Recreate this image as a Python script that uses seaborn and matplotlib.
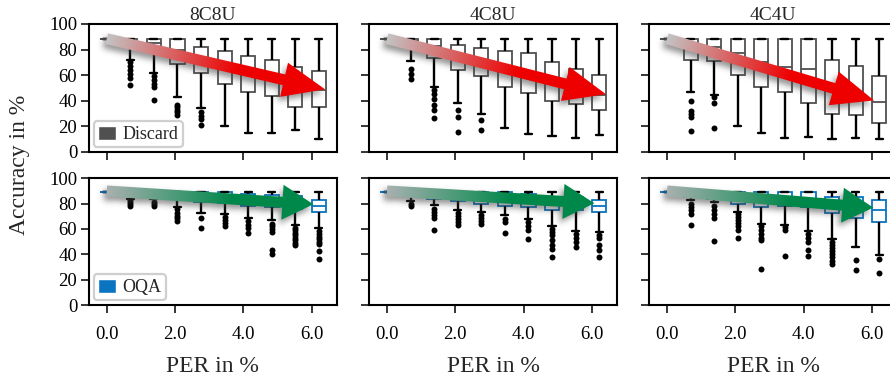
import numpy as np
import pandas as pd
import matplotlib
matplotlib.use("Agg")
import matplotlib.pyplot as plt
import seaborn as sns
from matplotlib.patches import Patch, Polygon
from matplotlib.path import Path

# ---------------------------------------------------------------- data
# packet error rates (%) at which accuracy was evaluated
per = [0.0, 0.69, 1.38, 2.07, 2.76, 3.45, 4.14, 4.83, 5.52, 6.21]
configs = ["8C8U", "4C8U", "4C4U"]
x_ticks = [0.0, 2.0, 4.0, 6.0]
x_tick_labels = ["0.0", "2.0", "4.0", "6.0"]
y_ticks = [0, 20, 40, 60, 80, 100]

# Discard - 8C8U  (whisker low, Q1, median, Q3, whisker high)
d_8c8u_lo = [88.5, 72, 62, 43, 34, 20.5, 14.5, 14.5, 17, 10.5]
d_8c8u_q1 = [88.5, 82, 79, 68.5, 62, 52.8, 46.5, 44, 35.5, 35.2]
d_8c8u_med = [88.5, 86.5, 85.5, 80, 73, 66, 61, 57, 51, 48.3]
d_8c8u_q3 = [88.5, 88.5, 88.5, 88, 82.3, 79, 75, 71.5, 66.2, 63]
d_8c8u_hi = [88.5, 88.5, 88.5, 88.5, 88.5, 88.5, 88.5, 88.5, 88, 88.5]
d_8c8u_fliers = [[], [70, 67, 64, 61, 58, 52], [59, 56, 53.5, 50.5, 41],
                 [37, 35, 33, 31, 29], [31, 28.5, 26, 21], [], [], [], [], []]

# Discard - 4C8U
d_4c8u_lo = [88.5, 71, 51, 38.2, 29.5, 18.4, 14.2, 12.4, 11, 12.9]
d_4c8u_q1 = [88.5, 83, 73.2, 64, 59.6, 51, 46, 40.2, 37.4, 32.8]
d_4c8u_med = [88.5, 87, 83, 76, 71, 65, 61, 55, 50, 44.6]
d_4c8u_q3 = [88.5, 88.5, 88.5, 83.9, 81.3, 78.9, 77.2, 70.1, 64.9, 60.5]
d_4c8u_hi = [88.5, 88.5, 88.5, 88.5, 88.5, 88.5, 88.5, 88.5, 88.5, 88.5]
d_4c8u_fliers = [[], [65, 61, 57], [48.5, 45, 41.5, 37, 32.5, 26.5],
                 [32.5, 27, 16], [24.7, 16.9], [], [], [], [], []]

# Discard - 4C4U
d_4c4u_lo = [88.5, 46.5, 44.5, 20.3, 15, 11, 11.6, 10.4, 11, 10.4]
d_4c4u_q1 = [88.5, 71.5, 71, 60.5, 50.7, 46.8, 38.2, 29.8, 28.6, 22.7]
d_4c4u_med = [88.5, 85, 82, 77, 70, 66.1, 65, 52, 46, 39]
d_4c4u_q3 = [88.5, 88.5, 88.5, 88.5, 88.5, 88.5, 88.5, 71.5, 66.8, 59.3]
d_4c4u_hi = [88.5, 88.5, 88.5, 88.5, 88.5, 88.5, 88.5, 88.5, 88.5, 88.5]
d_4c4u_fliers = [[], [39.5, 32, 29.5, 27.5, 16.3], [43, 38, 19],
                 [], [], [], [], [], [], []]

# OQA - 8C8U
q_8c8u_lo = [89, 84, 84, 77.5, 73, 72, 68.4, 66.8, 63.5, 60.5]
q_8c8u_q1 = [89, 87, 86.5, 84, 81, 80.5, 78.3, 77.5, 75.5, 73.7]
q_8c8u_med = [89, 88.5, 88, 87.5, 86, 85.5, 84, 83, 81, 78.2]
q_8c8u_q3 = [89, 89, 89, 89, 89, 89, 88, 87, 86, 83]
q_8c8u_hi = [89, 89, 89, 89, 89, 89, 89, 89, 89, 89]
q_8c8u_fliers = [[], [82.5, 81, 79.5, 78.5], [81.5, 79.5, 78.5],
                 [75.5, 73, 70.5, 68.5, 66.5], [68.5, 61],
                 [69.5, 67, 64.5, 62.5], [66, 63, 60.5, 57],
                 [64, 62, 60, 57.5, 43.5, 40.5],
                 [61, 59, 57, 55, 53, 51, 49, 47],
                 [58.5, 56, 54, 52, 50, 48, 42.5, 36.5]]

# OQA - 4C8U
q_4c8u_lo = [89, 82, 79, 75, 73.4, 70.7, 68, 62.7, 58.8, 58]
q_4c8u_q1 = [89, 86, 84, 82, 80, 78.5, 77, 74.6, 75, 73.3]
q_4c8u_med = [89, 88.5, 88, 87, 86, 85, 84, 79, 80, 78.5]
q_4c8u_q3 = [89, 89, 89, 89, 89, 89, 88, 83, 85, 83]
q_4c8u_hi = [89, 89, 89, 89, 89, 89, 89, 89, 89, 89]
q_4c8u_fliers = [[], [80, 78.5], [76, 73.5, 71, 69, 59.5],
                 [73, 70.5, 68, 65.5, 63], [71, 68.5, 66, 64],
                 [68, 65.5, 56.5], [65.5, 62.5, 59.5, 52],
                 [60, 57.5, 55, 51.5, 47.5, 44, 37.5],
                 [56, 53, 49.5, 46], [55, 52.5, 47.3, 43.3, 37.5]]

# OQA - 4C4U
q_4c4u_lo = [89, 83, 81, 73.7, 64, 63.2, 58.2, 52, 46, 39.2]
q_4c4u_q1 = [89, 85, 83.5, 80, 77.6, 78.5, 77.5, 72.4, 68.4, 65.2]
q_4c4u_med = [89, 88, 87.5, 86, 84, 84, 83, 79, 78, 75]
q_4c4u_q3 = [89, 89, 89, 89, 89, 89, 89, 85.5, 85.5, 82.7]
q_4c4u_hi = [89, 89, 89, 89, 89, 89, 89, 89, 89, 89]
q_4c4u_fliers = [[], [80, 77.5, 75, 72, 63], [78, 75, 72, 69, 50.5],
                 [72, 69.5, 67, 64.5, 62, 59.5, 52.5],
                 [62, 59, 56, 53, 51, 28.5], [61.5, 59, 38.5],
                 [56, 53, 50, 43.5, 39],
                 [50, 47.5, 45, 42.5, 40, 37.5, 35, 32],
                 [35.5, 28], [36.5, 25]]

# trend-arrow tip offsets from the last box's median (x in %, y in points)
discard_tip_dx = [0.18, 0.20, -0.15]
discard_tip_dy = [0.7, 0.5, 1.3]
oqa_tip_dx = [-0.16, -0.14, -0.17]
oqa_tip_dy = [1.3, 1.8, 1.8]

# ---------------------------------------------------------------- style
GRAY = "#505050"
BLUE = "#0a74c0"
sns.set_style("ticks")
plt.rcParams["font.family"] = ["Liberation Serif", "DejaVu Serif"]
plt.rcParams["axes.linewidth"] = 1.5
plt.rcParams["axes.edgecolor"] = "black"

fig = plt.figure(figsize=(8.9, 3.8), dpi=100)

W, H = 890.0, 380.0
col_left = [89.0, 369.3, 649.3]
ax_w = 247.6
row_top = [24.0, 178.3]
ax_h = [128.0, 126.7]

XLIM = (-0.52, 6.73)
YLIM = (0, 100)


def summary_frame(lo, q1, med, q3, hi):
    rows = []
    for x, a, b, c, d, e in zip(per, lo, q1, med, q3, hi):
        for v in (a, b, c, d, e):
            rows.append((x, v))
    return pd.DataFrame(rows, columns=["per", "acc"])


def flier_frame(fliers):
    rows = [(x, v) for x, vals in zip(per, fliers) for v in vals]
    return pd.DataFrame(rows, columns=["per", "acc"])


def gauss_blur(img, sigma):
    r = int(3 * sigma)
    k = np.exp(-0.5 * (np.arange(-r, r + 1) / sigma) ** 2)
    k /= k.sum()
    img = np.apply_along_axis(lambda m: np.convolve(m, k, mode="same"), 0, img)
    img = np.apply_along_axis(lambda m: np.convolve(m, k, mode="same"), 1, img)
    return img


def draw_trend_arrow(ax, tail, tip, c_start, c_end, head_len,
                     shaft_w=11.0, head_w=35.0):
    to_disp = ax.transData
    to_data = ax.transData.inverted()
    p0 = to_disp.transform(tail)
    p1 = to_disp.transform(tip)
    d = p1 - p0
    L = np.hypot(*d)
    u = d / L
    n = np.array([-u[1], u[0]])
    base = p1 - u * head_len
    verts = np.array([
        p0 + n * shaft_w / 2, base + n * shaft_w / 2, base + n * head_w / 2,
        p1, base - n * head_w / 2, base - n * shaft_w / 2, p0 - n * shaft_w / 2,
    ])

    # soft drop shadow
    shadow = verts + np.array([-3.0, -4.0])
    pad = 14
    x0, y0 = np.floor(np.minimum(verts.min(0), shadow.min(0)) - pad)
    x1, y1 = np.ceil(np.maximum(verts.max(0), shadow.max(0)) + pad)
    xs = np.arange(x0, x1) + 0.5
    ys = np.arange(y0, y1) + 0.5
    X, Y = np.meshgrid(xs, ys)
    pts = np.column_stack([X.ravel(), Y.ravel()])
    mask = Path(shadow).contains_points(pts).reshape(X.shape).astype(float)
    mask = gauss_blur(mask, 3.0)
    rgba = np.zeros(X.shape + (4,))
    rgba[..., :3] = 0.25
    rgba[..., 3] = 0.55 * mask
    (dx0, dy0) = to_data.transform((x0, y0))
    (dx1, dy1) = to_data.transform((x1, y1))
    ax.imshow(rgba, extent=(dx0, dx1, dy0, dy1), origin="lower",
              aspect="auto", interpolation="bilinear", zorder=4)

    # colour gradient along the arrow, clipped to its outline
    t = ((X - p0[0]) * u[0] + (Y - p0[1]) * u[1]) / L
    s = np.clip(t / 0.6, 0, 1)[..., None]
    c0 = np.array(matplotlib.colors.to_rgb(c_start))
    c1 = np.array(matplotlib.colors.to_rgb(c_end))
    rgb = c0 * (1 - s) + c1 * s
    im = ax.imshow(rgb, extent=(dx0, dx1, dy0, dy1), origin="lower",
                   aspect="auto", interpolation="bilinear", zorder=5)
    outline = Polygon(to_data.transform(verts), closed=True,
                      facecolor="none", edgecolor="none")
    ax.add_patch(outline)
    im.set_clip_path(outline)


panels = [
    [(d_8c8u_lo, d_8c8u_q1, d_8c8u_med, d_8c8u_q3, d_8c8u_hi, d_8c8u_fliers),
     (d_4c8u_lo, d_4c8u_q1, d_4c8u_med, d_4c8u_q3, d_4c8u_hi, d_4c8u_fliers),
     (d_4c4u_lo, d_4c4u_q1, d_4c4u_med, d_4c4u_q3, d_4c4u_hi, d_4c4u_fliers)],
    [(q_8c8u_lo, q_8c8u_q1, q_8c8u_med, q_8c8u_q3, q_8c8u_hi, q_8c8u_fliers),
     (q_4c8u_lo, q_4c8u_q1, q_4c8u_med, q_4c8u_q3, q_4c8u_hi, q_4c8u_fliers),
     (q_4c4u_lo, q_4c4u_q1, q_4c4u_med, q_4c4u_q3, q_4c4u_hi, q_4c4u_fliers)],
]
row_color = [GRAY, BLUE]
row_label = ["Discard", "OQA"]
arrow_cols = [("#c4c4c4", "#ee0000"), ("#a9b1b1", "#00884a")]
head_lens = [42.0, 31.0]
tip_dx = [discard_tip_dx, oqa_tip_dx]
tip_dy = [discard_tip_dy, oqa_tip_dy]

for r in range(2):
    for c in range(3):
        lo, q1, med, q3, hi, fl = panels[r][c]
        rect = [col_left[c] / W, 1 - (row_top[r] + ax_h[r]) / H,
                ax_w / W, ax_h[r] / H]
        ax = fig.add_axes(rect)

        sns.boxplot(data=summary_frame(lo, q1, med, q3, hi), x="per", y="acc",
                    native_scale=True, whis=(0, 100), width=0.6,
                    color="white", linecolor=row_color[r], linewidth=1.3,
                    fliersize=0,
                    whiskerprops=dict(color="black", linewidth=1.7),
                    capprops=dict(color="black", linewidth=1.7),
                    ax=ax, zorder=2)
        ff = flier_frame(fl)
        if len(ff):
            sns.stripplot(data=ff, x="per", y="acc", native_scale=True,
                          jitter=False, color="black", size=4.3,
                          linewidth=0, ax=ax, zorder=3)

        ax.set_xlim(*XLIM)
        ax.set_ylim(*YLIM)
        ax.set_xticks(x_ticks)
        ax.set_yticks(y_ticks)
        ax.set_xlabel("")
        ax.set_ylabel("")
        ax.tick_params(direction="out", length=5.5, width=1.1,
                       colors="black", labelsize=13.5)
        ax.tick_params(axis="x", pad=9.5)
        ax.tick_params(axis="y", pad=3)
        for sp in ax.spines.values():
            sp.set_visible(True)
            sp.set_linewidth(1.5)
            sp.set_color("black")

        if c == 0:
            ax.set_yticklabels([str(v) for v in y_ticks])
        else:
            ax.set_yticklabels([])
        if r == 1:
            ax.set_xticklabels(x_tick_labels)
            ax.set_xlabel("PER in %", fontsize=17, labelpad=9.5)
        else:
            ax.set_xticklabels([])
            ax.set_title(configs[c], fontsize=14, pad=3)

        tail = (per[0], med[0] + (0 if r == 0 else 1.0))
        tip = (per[-1] + tip_dx[r][c], med[-1] + tip_dy[r][c])
        draw_trend_arrow(ax, tail, tip, arrow_cols[r][0], arrow_cols[r][1],
                         head_lens[r])
        ax.set_xlim(*XLIM)
        ax.set_ylim(*YLIM)

        if c == 0:
            leg = ax.legend(handles=[Patch(facecolor=row_color[r],
                                           label=row_label[r])],
                            loc="lower left", fontsize=13, frameon=True,
                            fancybox=True, framealpha=1,
                            edgecolor="#cfcfcf", handlelength=1.0,
                            handleheight=0.8, borderpad=0.25,
                            handletextpad=0.35, borderaxespad=0.25)
            leg.get_frame().set_linewidth(1.6)
            leg.set_zorder(10)

fig.text(20 / W, 1 - 165 / H, "Accuracy in %", rotation=90,
         ha="center", va="center", fontsize=17)

fig.savefig("out.png", dpi=100)
